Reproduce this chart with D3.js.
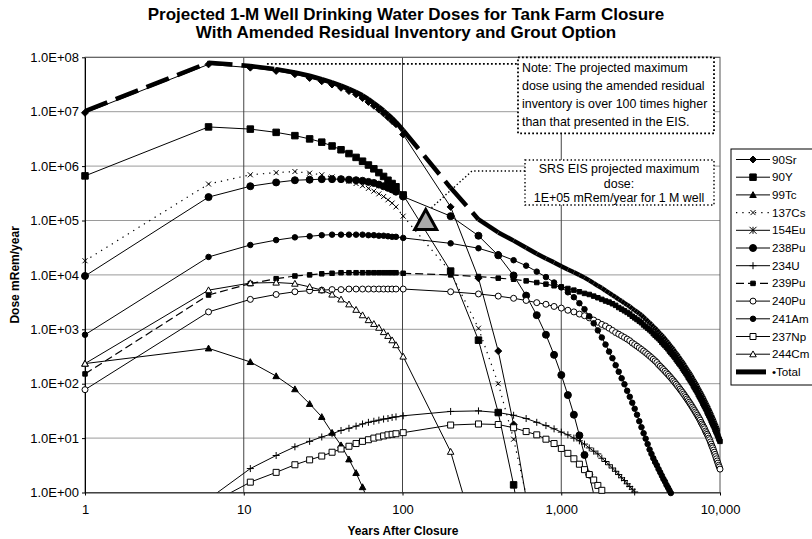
<!DOCTYPE html>
<html>
<head>
<meta charset="utf-8">
<script src="https://cdn.jsdelivr.net/npm/d3@7"></script>
<style>
  body { margin: 0; background: #fff; }
  text { font-family: "Liberation Sans", Arial, sans-serif; fill: #000; }
</style>
</head>
<body>
<script>
// years after closure, shared by every series
const years = [1, 6, 11, 16, 21, 26, 31, 36, 41, 46, 51, 56, 61, 66, 71, 76, 81, 86, 91,
  101, 201, 301, 401, 501, 601, 701, 801, 901, 1001,
  1101, 1201, 1301, 1401, 1501, 1601, 1701, 1801, 1901, 2001,
  2101, 2201, 2301, 2401, 2501, 2601, 2701, 2801, 2901, 3001,
  3101, 3201, 3301, 3401, 3501, 3601, 3701, 3801, 3901, 4001,
  4101, 4201, 4301, 4401, 4501, 4601, 4701, 4801, 4901, 5001,
  5101, 5201, 5301, 5401, 5501, 5601, 5701, 5801, 5901, 6001,
  6101, 6201, 6301, 6401, 6501, 6601, 6701, 6801, 6901, 7001,
  7101, 7201, 7301, 7401, 7501, 7601, 7701, 7801, 7901, 8001,
  8101, 8201, 8301, 8401, 8501, 8601, 8701, 8801, 8901, 9001,
  9101, 9201, 9301, 9401, 9501, 9601, 9701, 9801, 9901, 10001];

// dose, stored as log10(mRem/year); null = not plotted
const sr90 = [6.98, 7.87, 7.81, 7.75, 7.69, 7.62, 7.56, 7.50, 7.44, 7.38, 7.32, 7.25, 7.18, 7.11, 7.04, 6.97, 6.90, 6.83, 6.77,
  6.58, 5.25, 3.94, 2.60, 1.25, -0.10];
const y90 = [5.82, 6.72, 6.68, 6.62, 6.56, 6.50, 6.44, 6.37, 6.30, 6.23, 6.16, 6.09, 6.02, 5.95, 5.88, 5.81, 5.74, 5.68, 5.62,
  5.47, 4.07, 2.80, 1.47, 0.14, -1.20];
const tc99 = [2.37, 2.65, 2.40, 2.14, 1.90, 1.63, 1.39, 1.10, 0.87, 0.61, 0.36, 0.10, -0.17];
const cs137 = [4.26, 5.67, 5.84, 5.88, 5.90, 5.87, 5.84, 5.80, 5.76, 5.72, 5.68, 5.64, 5.59, 5.54, 5.49, 5.44, 5.38, 5.32, 5.25,
  5.08, 4.05, 3.02, 2.00, 0.98, -0.05];
const eu154 = []; // below the axis for the whole period
const pu238 = [3.98, 5.43, 5.63, 5.70, 5.74, 5.75, 5.76, 5.76, 5.76, 5.75, 5.74, 5.73, 5.71, 5.69, 5.66, 5.63, 5.60, 5.57, 5.53,
  5.44, 5.08, 4.72, 4.36, 3.99, 3.62, 3.26, 2.90, 2.53, 2.16,
  1.79, 1.43, 1.05, 0.69, 0.33, -0.03];
const u234 = [null, -0.12, 0.44, 0.68, 0.84, 0.94, 1.02, 1.08, 1.14, 1.18, 1.22, 1.26, 1.29, 1.31, 1.33, 1.35, 1.36, 1.38, 1.39,
  1.41, 1.49, 1.50, 1.47, 1.42, 1.36, 1.29, 1.23, 1.17, 1.11,
  1.06, 1.00, 0.95, 0.89, 0.82, 0.76, 0.71, 0.63, 0.57, 0.51,
  0.45, 0.39, 0.33, 0.27, 0.22, 0.16, 0.11, 0.06, 0.01, -0.04];
const pu239 = [2.18, 3.63, 3.84, 3.93, 3.98, 4.00, 4.02, 4.03, 4.04, 4.04, 4.04, 4.04, 4.04, 4.04, 4.04, 4.04, 4.04, 4.04, 4.04,
  4.03, 4.00, 3.97, 3.94, 3.92, 3.89, 3.86, 3.83, 3.80, 3.78,
  3.75, 3.72, 3.69, 3.66, 3.64, 3.61, 3.58, 3.55, 3.52, 3.50,
  3.47, 3.44, 3.40, 3.37, 3.34, 3.31, 3.28, 3.24, 3.21, 3.18,
  3.15, 3.12, 3.08, 3.05, 3.02, 2.99, 2.96, 2.92, 2.89, 2.86,
  2.83, 2.80, 2.76, 2.73, 2.70, 2.67, 2.64, 2.60, 2.57, 2.54,
  2.51, 2.48, 2.44, 2.41, 2.38, 2.35, 2.32, 2.28, 2.25, 2.22,
  2.19, 2.16, 2.12, 2.09, 2.06, 2.03, 2.00, 1.96, 1.93, 1.90,
  1.87, 1.84, 1.80, 1.77, 1.74, 1.71, 1.68, 1.64, 1.61, 1.58,
  1.55, 1.52, 1.48, 1.45, 1.42, 1.39, 1.36, 1.32, 1.29, 1.26,
  1.23, 1.20, 1.16, 1.13, 1.10, 1.07, 1.04, 1.00, 0.97, 0.94];
const pu240 = [1.89, 3.32, 3.55, 3.64, 3.69, 3.71, 3.72, 3.73, 3.73, 3.74, 3.74, 3.74, 3.74, 3.74, 3.74, 3.74, 3.74, 3.74, 3.74,
  3.74, 3.69, 3.65, 3.61, 3.57, 3.53, 3.49, 3.46, 3.42, 3.39,
  3.35, 3.32, 3.28, 3.25, 3.21, 3.17, 3.13, 3.09, 3.06, 3.02,
  2.98, 2.94, 2.91, 2.88, 2.85, 2.82, 2.79, 2.75, 2.72, 2.69,
  2.66, 2.63, 2.60, 2.57, 2.54, 2.51, 2.48, 2.45, 2.42, 2.39,
  2.35, 2.32, 2.29, 2.26, 2.23, 2.20, 2.17, 2.14, 2.11, 2.08,
  2.05, 2.02, 1.99, 1.96, 1.93, 1.90, 1.87, 1.84, 1.81, 1.78,
  1.75, 1.72, 1.69, 1.66, 1.63, 1.60, 1.57, 1.54, 1.51, 1.48,
  1.45, 1.42, 1.39, 1.36, 1.33, 1.29, 1.26, 1.23, 1.20, 1.17,
  1.13, 1.10, 1.07, 1.04, 1.00, 0.97, 0.93, 0.89, 0.85, 0.82,
  0.78, 0.74, 0.70, 0.66, 0.62, 0.58, 0.54, 0.50, 0.47, 0.43];
const am241 = [2.90, 4.33, 4.55, 4.64, 4.69, 4.71, 4.73, 4.74, 4.74, 4.74, 4.74, 4.74, 4.73, 4.73, 4.72, 4.72, 4.71, 4.70, 4.70,
  4.68, 4.58, 4.49, 4.38, 4.27, 4.17, 4.06, 3.96, 3.86, 3.77,
  3.68, 3.59, 3.48, 3.37, 3.24, 3.11, 2.98, 2.85, 2.72, 2.59,
  2.47, 2.34, 2.22, 2.10, 1.99, 1.87, 1.76, 1.65, 1.54, 1.43,
  1.31, 1.20, 1.09, 0.99, 0.89, 0.79, 0.71, 0.63, 0.56, 0.50,
  0.43, 0.37, 0.31, 0.25, 0.20, 0.14, 0.09, 0.04, -0.01];
const np237 = [null, -0.22, 0.19, 0.37, 0.51, 0.60, 0.67, 0.74, 0.80, 0.85, 0.90, 0.94, 0.97, 1.00, 1.02, 1.04, 1.06, 1.07, 1.08,
  1.10, 1.24, 1.26, 1.25, 1.19, 1.12, 1.06, 0.98, 0.90, 0.81,
  0.72, 0.62, 0.52, 0.42, 0.33, 0.23, 0.13, 0.04, -0.06];
const cm244 = [2.37, 3.72, 3.85, 3.86, 3.84, 3.78, 3.72, 3.64, 3.55, 3.46, 3.36, 3.26, 3.17, 3.10, 3.03, 2.95, 2.88, 2.80, 2.71,
  2.50, 0.75, -1.00];
const total = [7.01, 7.90, 7.84, 7.78, 7.72, 7.66, 7.60, 7.54, 7.48, 7.42, 7.36, 7.30, 7.23, 7.16, 7.09, 7.02, 6.95, 6.88, 6.81,
  6.66, 5.60, 5.02, 4.78, 4.63, 4.50, 4.39, 4.30, 4.23, 4.16,
  4.10, 4.05, 4.00, 3.95, 3.90, 3.85, 3.80, 3.76, 3.71, 3.67,
  3.63, 3.59, 3.55, 3.52, 3.48, 3.45, 3.42, 3.38, 3.35, 3.32,
  3.29, 3.26, 3.22, 3.19, 3.15, 3.12, 3.09, 3.05, 3.02, 2.99,
  2.95, 2.92, 2.89, 2.86, 2.82, 2.79, 2.76, 2.72, 2.69, 2.66,
  2.63, 2.59, 2.56, 2.53, 2.50, 2.46, 2.43, 2.40, 2.37, 2.34,
  2.30, 2.27, 2.24, 2.21, 2.18, 2.15, 2.11, 2.08, 2.05, 2.02,
  1.99, 1.96, 1.92, 1.89, 1.86, 1.83, 1.80, 1.77, 1.74, 1.70,
  1.67, 1.64, 1.61, 1.58, 1.55, 1.51, 1.48, 1.45, 1.42, 1.38,
  1.35, 1.32, 1.28, 1.25, 1.22, 1.18, 1.15, 1.12, 1.09, 1.06];

const names = ["90Sr", "90Y", "99Tc", "137Cs", "154Eu", "238Pu", "234U", "239Pu", "240Pu", "241Am", "237Np", "244Cm", "Total"];
const logDoses = [sr90, y90, tc99, cs137, eu154, pu238, u234, pu239, pu240, am241, np237, cm244, total];

// SRS EIS projected maximum
const eisYear = [140];
const eisDose = [1e5];

const yTicks = [1, 10, 100, 1e3, 1e4, 1e5, 1e6, 1e7, 1e8];
const xTicks = [1, 10, 100, 1000, 10000];

// line + marker look for each series
const look = {
  "90Sr":  { dash: null, w: 1, m: "diamond", s: 7, fill: "#000" },
  "90Y":   { dash: null, w: 1, m: "square", s: 6.5, fill: "#000" },
  "99Tc":  { dash: null, w: 1, m: "triangle", s: 6.5, fill: "#000" },
  "137Cs": { dash: "1.3,5", w: 1.2, m: "x", s: 5, fill: "none" },
  "154Eu": { dash: null, w: 1, m: "star", s: 7, fill: "none" },
  "238Pu": { dash: null, w: 1, m: "circle", s: 7, fill: "#000" },
  "234U":  { dash: null, w: 1, m: "plus", s: 7, fill: "none" },
  "239Pu": { dash: "8,4", w: 1.2, m: "square", s: 4.5, fill: "#000" },
  "240Pu": { dash: null, w: 1, m: "circle", s: 6, fill: "#fff" },
  "241Am": { dash: null, w: 1, m: "circle", s: 5.5, fill: "#000" },
  "237Np": { dash: null, w: 1, m: "square", s: 6, fill: "#fff" },
  "244Cm": { dash: null, w: 1, m: "triangle", s: 6.5, fill: "#fff" },
  "Total": { dash: "24,9", w: 4.5, m: null }
};

function markerPath(type, s) {
  const h = s / 2;
  if (type == "diamond") return `M0,${-h}L${h},0L0,${h}L${-h},0Z`;
  if (type == "square") return `M${-h},${-h}H${h}V${h}H${-h}Z`;
  if (type == "triangle") return `M0,${-h}L${h},${h * 0.8}L${-h},${h * 0.8}Z`;
  if (type == "x") return `M${-h},${-h}L${h},${h}M${h},${-h}L${-h},${h}`;
  if (type == "star") return `M${-h},${-h}L${h},${h}M${h},${-h}L${-h},${h}M0,${-h}V${h}`;
  if (type == "plus") return `M${-h},0H${h}M0,${-h}V${h}`;
  if (type == "circle") return `M${h},0A${h},${h} 0 1,1 ${-h},0A${h},${h} 0 1,1 ${h},0Z`;
  return "";
}

const W = 812, H = 539;
const pL = 85, pR = 720, pT = 57.3, pB = 492.5;

const svg = d3.select("body").append("svg")
  .attr("width", W)
  .attr("height", H);

const x = d3.scaleLog().domain([1, 10000]).range([pL, pR]);
const y = d3.scaleLog().domain([1, 1e8]).range([pB, pT]);

svg.append("defs").append("clipPath").attr("id", "plot")
  .append("rect")
  .attr("x", pL).attr("y", pT)
  .attr("width", pR - pL).attr("height", pB - pT);

// title
svg.append("text")
  .attr("x", 406).attr("y", 20)
  .attr("text-anchor", "middle")
  .style("font-weight", "bold").style("font-size", "17px")
  .text("Projected 1-M Well Drinking Water Doses for Tank Farm Closure");
svg.append("text")
  .attr("x", 406).attr("y", 38)
  .attr("text-anchor", "middle")
  .style("font-weight", "bold").style("font-size", "17px")
  .text("With Amended Residual Inventory and Grout Option");

// grid
svg.append("g").selectAll("line")
  .data(yTicks)
  .join("line")
  .attr("x1", pL).attr("x2", pR)
  .attr("y1", d => y(d)).attr("y2", d => y(d))
  .attr("stroke", "#9a9a9a");
svg.append("g").selectAll("line")
  .data(xTicks.slice(1, -1))
  .join("line")
  .attr("x1", d => x(d)).attr("x2", d => x(d))
  .attr("y1", pT).attr("y2", pB)
  .attr("stroke", "#444");
svg.append("rect")
  .attr("x", pL).attr("y", pT)
  .attr("width", pR - pL).attr("height", pB - pT)
  .attr("fill", "none").attr("stroke", "#555");

// axes
const yAxis = svg.append("g")
  .attr("transform", `translate(${pL},0)`)
  .call(d3.axisLeft(y).tickValues(yTicks).tickSizeOuter(0).tickSizeInner(3).tickPadding(3)
    .tickFormat(d => "1.0E+" + String(Math.round(Math.log10(d))).padStart(2, "0")));
yAxis.select(".domain").attr("stroke", "#000");
yAxis.selectAll("text").style("font-size", "13px");

const xAxis = svg.append("g")
  .attr("transform", `translate(0,${pB})`)
  .call(d3.axisBottom(x).tickValues(xTicks).tickSizeOuter(0).tickSizeInner(3).tickPadding(9)
    .tickFormat(d3.format(",")));
xAxis.select(".domain").attr("stroke", "#333");
xAxis.selectAll("text").style("font-size", "13px");

svg.append("text")
  .attr("x", 403).attr("y", 535)
  .attr("text-anchor", "middle")
  .style("font-weight", "bold").style("font-size", "12px")
  .text("Years After Closure");
svg.append("text")
  .attr("transform", `translate(19,${(pT + pB) / 2}) rotate(-90)`)
  .attr("text-anchor", "middle")
  .style("font-weight", "bold").style("font-size", "12px")
  .text("Dose mRem/year");

// series
const plot = svg.append("g");
const lines = plot.append("g").attr("clip-path", "url(#plot)");
const marks = plot.append("g");

const line = d3.line()
  .defined(d => d.v != null)
  .x(d => x(d.t))
  .y(d => y(d.v));

names.forEach((name, k) => {
  const st = look[name];
  const pts = logDoses[k].map((e, i) => ({ t: years[i], v: e == null ? null : Math.pow(10, e) }));
  if (pts.length < 2) return;
  if (st.dash) {
    // dash pattern starts over on every segment
    for (let i = 0; i < pts.length - 1; i++) {
      if (pts[i].v == null || pts[i + 1].v == null) continue;
      lines.append("path")
        .attr("d", line([pts[i], pts[i + 1]]))
        .attr("fill", "none")
        .attr("stroke", "#000")
        .attr("stroke-width", st.w)
        .attr("stroke-dasharray", st.dash);
    }
  } else {
    lines.append("path")
      .attr("d", line(pts))
      .attr("fill", "none")
      .attr("stroke", "#000")
      .attr("stroke-width", st.w);
  }
  if (st.m) {
    marks.append("g").selectAll("path")
      .data(pts.filter(d => d.v != null && d.v >= 0.97 && d.v <= 1.03e8))
      .join("path")
      .attr("transform", d => `translate(${x(d.t)},${y(d.v)})`)
      .attr("d", markerPath(st.m, st.s))
      .attr("fill", st.fill)
      .attr("stroke", "#000")
      .attr("stroke-width", 1);
  }
});

// note box + leader to the peak
const dotted = "1.8,2.2";
svg.append("line")
  .attr("x1", x(14)).attr("x2", 518)
  .attr("y1", y(7.6e7)).attr("y2", y(7.6e7))
  .attr("stroke", "#000").attr("stroke-width", 1.8).attr("stroke-dasharray", dotted);
svg.append("rect")
  .attr("x", 518).attr("y", pT).attr("width", 196).attr("height", 76)
  .attr("fill", "#fff").attr("stroke", "#000").attr("stroke-width", 1.8).attr("stroke-dasharray", dotted);
const noteLines = ["Note: The projected maximum", "dose using the amended residual",
  "inventory is over 100 times higher", "than that presented in the EIS."];
svg.append("g").selectAll("text")
  .data(noteLines)
  .join("text")
  .attr("x", 522).attr("y", (d, i) => 72 + i * 18)
  .style("font-size", "12.4px")
  .text(d => d);

// SRS EIS box, leader and marker
const eis = eisYear.map((t, i) => ({ t, v: eisDose[i] }));
svg.append("polyline")
  .attr("points", `525,171 472,171 ${x(eis[0].t) + 5},${y(eis[0].v) - 12}`)
  .attr("fill", "none").attr("stroke", "#000").attr("stroke-width", 1.4).attr("stroke-dasharray", "1.4,2.4");
svg.append("rect")
  .attr("x", 525).attr("y", 160).attr("width", 189).attr("height", 45)
  .attr("fill", "#fff").attr("stroke", "#000").attr("stroke-width", 1.4).attr("stroke-dasharray", "1.4,2.4");
const srsLines = ["SRS EIS projected maximum", "dose:", "1E+05 mRem/year for 1 M well"];
svg.append("g").selectAll("text")
  .data(srsLines)
  .join("text")
  .attr("x", 619).attr("y", (d, i) => 173 + i * 14.5)
  .attr("text-anchor", "middle")
  .style("font-size", "12.4px")
  .text(d => d);
svg.append("g").selectAll("path")
  .data(eis)
  .join("path")
  .attr("transform", d => `translate(${x(d.t)},${y(d.v)})`)
  .attr("d", "M0,-11L11,9L-11,9Z")
  .attr("fill", "#a9a9a9")
  .attr("stroke", "#000")
  .attr("stroke-width", 3)
  .attr("stroke-linejoin", "miter");

// legend
const leg = svg.append("g").attr("transform", "translate(731,149)");
leg.append("rect")
  .attr("x", 0).attr("y", 0).attr("width", 110).attr("height", 236)
  .attr("fill", "#fff").attr("stroke", "#000");
names.forEach((name, i) => {
  const st = look[name];
  const g = leg.append("g").attr("transform", `translate(0,${10.5 + i * 17.7})`);
  g.append("line")
    .attr("x1", 5).attr("x2", name == "Total" ? 35 : 39)
    .attr("stroke", "#000")
    .attr("stroke-width", name == "Total" ? 5 : st.w)
    .attr("stroke-dasharray", name == "Total" ? null : st.dash);
  if (st.m) {
    g.append("path")
      .attr("transform", "translate(22,0)")
      .attr("d", markerPath(st.m, st.s))
      .attr("fill", st.fill)
      .attr("stroke", "#000");
  }
  g.append("text")
    .attr("x", 41).attr("dy", "0.35em")
    .style("font-size", "11.6px")
    .text(name == "Total" ? "•Total" : name);
});
</script>
</body>
</html>
